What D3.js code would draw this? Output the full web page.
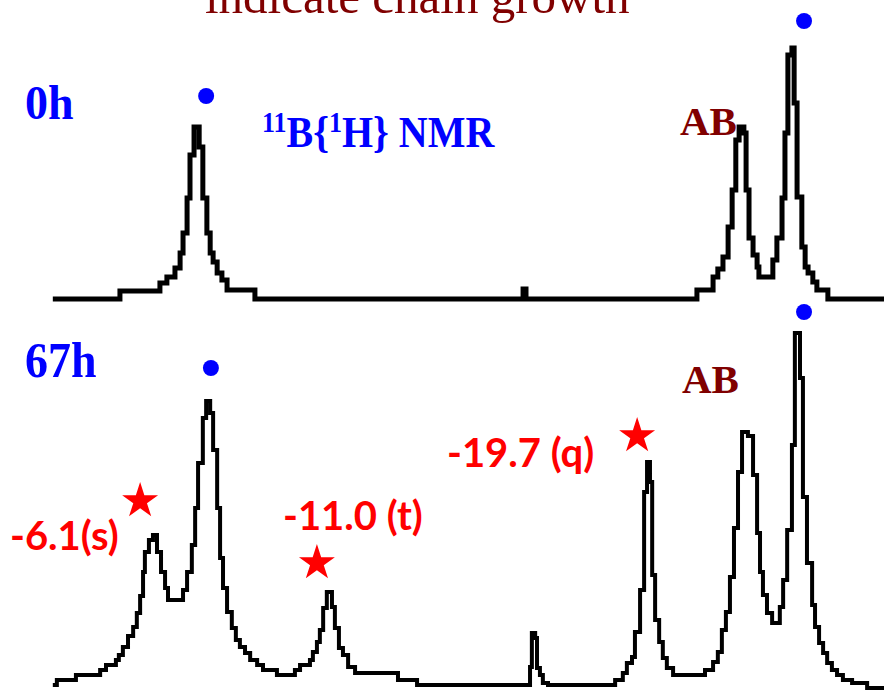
<!DOCTYPE html>
<html>
<head>
<meta charset="utf-8">
<script src="https://cdn.jsdelivr.net/npm/d3@7"></script>
<style>
  body { margin: 0; background: #fff; }
  svg { display: block; }
</style>
</head>
<body>
<div id="chart"></div>
<script>
// 11B{1H} NMR, chemical shift (ppm, shown as magnitude) vs intensity (a.u.)
const shiftTop = [3.44, 5.27, 6.36, 6.55, 6.77, 6.91, 6.99, 7.10, 7.18, 7.29, 7.43, 7.53, 7.64, 7.73, 7.81, 7.92, 8.05, 8.19, 8.95,
  16.26, 16.34,
  21.00, 21.44, 21.57, 21.71, 21.85, 21.96, 22.06, 22.15, 22.28, 22.34, 22.42, 22.53, 22.64, 22.69, 23.07, 23.18, 23.32, 23.40,
  23.48, 23.59, 23.65, 23.73, 23.86, 23.95, 24.03, 24.16, 24.27, 24.57, 26.10];
const intTop = [0, 8, 16, 22, 31, 46, 66, 101, 144, 172, 152, 101, 66, 46, 37, 26, 19, 9, 0,
  10, 0,
  9, 22, 30, 42, 72, 109, 159, 172, 166, 109, 61, 44, 32, 22, 39, 61, 101, 166,
  244, 251, 196, 102, 52, 32, 26, 17, 9, 0, 0];

const shiftBottom = [3.44, 3.55, 4.07, 4.73, 4.89, 5.16, 5.24, 5.35, 5.49, 5.63, 5.73, 5.82, 5.90, 5.95, 6.06, 6.17, 6.28, 6.39, 6.50, 6.58,
  6.99, 7.10, 7.23, 7.32, 7.40, 7.53, 7.62, 7.73, 7.81, 7.92, 8.00, 8.08, 8.19, 8.32, 8.43, 8.54, 8.68, 8.82, 9.01, 9.17, 9.55,
  10.04, 10.18, 10.45, 10.53, 10.64, 10.72, 10.81, 10.91, 11.05, 11.13, 11.24, 11.35, 11.49, 11.68, 12.85, 13.37,
  16.39, 16.45, 16.50, 16.59, 16.64, 16.72, 16.80, 16.94,
  18.77, 18.98, 19.09, 19.23, 19.31, 19.45, 19.56, 19.64, 19.72, 19.78, 19.86, 19.97, 20.07, 20.18, 20.35,
  21.22, 21.44, 21.57, 21.68, 21.79, 21.90, 22.01, 22.12, 22.23, 22.39, 22.53, 22.64, 22.72, 22.80, 22.91, 23.05,
  23.26, 23.35, 23.46, 23.59, 23.67, 23.81, 23.89, 24.00, 24.14, 24.22, 24.33, 24.44, 24.55, 24.68, 24.82, 24.98,
  25.23, 25.64, 26.10];
const intBottom = [1, 6, 11, 16, 21, 26, 31, 39, 50, 59, 73, 90, 114, 134, 146, 151, 134, 114, 98, 86,
  96, 114, 141, 178, 223, 268, 285, 273, 236, 178, 128, 98, 74, 58, 46, 39, 33, 26, 21, 16, 11,
  16, 21, 26, 34, 44, 56, 78, 94, 79, 58, 38, 31, 19, 13, 6, 1,
  1, 19, 53, 48, 18, 11, 3, 1,
  6, 13, 23, 29, 54, 96, 194, 224, 204, 111, 66, 44, 28, 18, 11,
  16, 24, 34, 56, 74, 109, 158, 214, 254, 250, 211, 153, 114, 91, 73, 63,
  79, 106, 156, 241, 353, 308, 189, 123, 81, 59, 43, 33, 23, 16, 11, 6,
  3, -2, -2];

// peak markers
const dotShiftTop = [7.62, 23.92];
const dotIntTop = [203, 278];
const dotShiftBottom = [7.75, 23.92];
const dotIntBottom = [318, 374];
const starShift = [5.82, 10.64, 19.37];
const starInt = [185, 123, 250];
const starLabels = ["-6.1(s)", "-11.0 (t)", "-19.7 (q)"];

const width = 884;
const height = 691;

const svg = d3.select("#chart")
  .append("svg")
  .attr("width", width)
  .attr("height", height);

const x = d3.scaleLinear().domain([2.0, 26.1]).range([0, width]);
const yTop = d3.scaleLinear().domain([0, 400]).range([299, -101]);
const yBottom = d3.scaleLinear().domain([0, 400]).range([686, 286]);

function trace(shifts, ints, y, sw) {
  const line = d3.line()
    .x((d) => x(d[0]))
    .y((d) => y(d[1]))
    .curve(d3.curveStepAfter);
  svg.append("path")
    .datum(d3.zip(shifts, ints))
    .attr("d", line)
    .attr("fill", "none")
    .attr("stroke", "#000")
    .attr("stroke-width", sw);
}

trace(shiftTop, intTop, yTop, 5);
trace(shiftBottom, intBottom, yBottom, 4);

// blue dots
svg.selectAll(".dotTop")
  .data(d3.zip(dotShiftTop, dotIntTop))
  .enter().append("circle")
  .attr("cx", (d) => x(d[0]))
  .attr("cy", (d) => yTop(d[1]))
  .attr("r", 8)
  .attr("fill", "#0000ff");

svg.selectAll(".dotBottom")
  .data(d3.zip(dotShiftBottom, dotIntBottom))
  .enter().append("circle")
  .attr("cx", (d) => x(d[0]))
  .attr("cy", (d) => yBottom(d[1]))
  .attr("r", 8)
  .attr("fill", "#0000ff");

// red stars
svg.selectAll(".star")
  .data(d3.zip(starShift, starInt))
  .enter().append("path")
  .attr("d", d3.symbol(d3.symbolStar).size(400))
  .attr("transform", (d) => `translate(${x(d[0])},${yBottom(d[1])})`)
  .attr("fill", "#ff0000");

// texts
const serif = "'Liberation Serif', 'Times New Roman', serif";
const blue = "#0000ff";
const maroon = "#800000";

svg.append("text")
  .attr("x", 205).attr("y", 13)
  .attr("font-family", serif).attr("font-size", 49)
  .attr("fill", maroon)
  .text("indicate chain growth");

svg.append("text")
  .attr("transform", "translate(25,119) scale(1,1.06)")
  .attr("font-family", serif).attr("font-size", 46).attr("font-weight", "bold")
  .attr("fill", blue)
  .text("0h");

svg.append("text")
  .attr("transform", "translate(25,377) scale(1,1.1)")
  .attr("font-family", serif).attr("font-size", 46).attr("font-weight", "bold")
  .attr("fill", blue)
  .text("67h");

const nmr = svg.append("text")
  .attr("transform", "translate(262,147) scale(1,1.12)")
  .attr("font-family", serif).attr("font-size", 40).attr("font-weight", "bold")
  .attr("fill", blue);
nmr.append("tspan").attr("font-size", 26).attr("dy", -13).text("11");
nmr.append("tspan").attr("dy", 13).text("B{");
nmr.append("tspan").attr("font-size", 26).attr("dy", -13).text("1");
nmr.append("tspan").attr("dy", 13).text("H} NMR");

svg.append("text")
  .attr("x", 680).attr("y", 135)
  .attr("font-family", serif).attr("font-size", 41).attr("font-weight", "bold")
  .attr("fill", maroon)
  .text("AB");

svg.append("text")
  .attr("x", 682).attr("y", 393)
  .attr("font-family", serif).attr("font-size", 41).attr("font-weight", "bold")
  .attr("fill", maroon)
  .text("AB");

const labelPos = [[10, 550], [283, 530], [447, 467]];
svg.selectAll(".peakLabel")
  .data(starLabels)
  .enter().append("text")
  .attr("x", (_, i) => labelPos[i][0])
  .attr("y", (_, i) => labelPos[i][1])
  .attr("font-family", "Lato, 'Open Sans', sans-serif")
  .attr("font-size", 40)
  .attr("font-weight", "bold")
  .attr("fill", "#ff0000")
  .text((d) => d);
</script>
</body>
</html>
